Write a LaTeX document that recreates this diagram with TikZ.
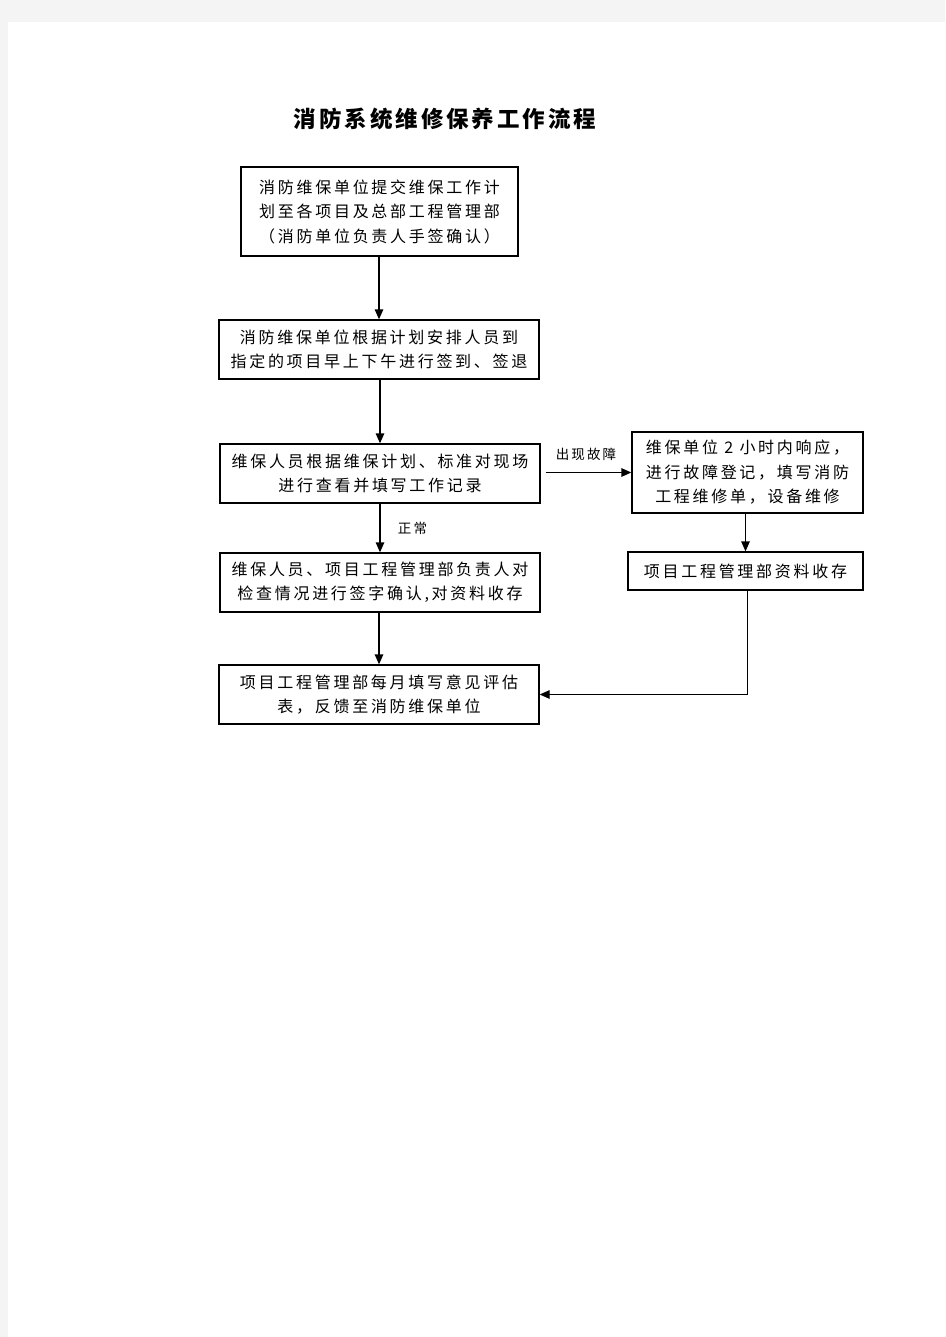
\documentclass[tikz,border=0pt]{standalone}
\usepackage{fontspec}
\usepackage{tikz}
\usetikzlibrary{arrows.meta}
\newfontfamily\cjk{Noto Sans CJK SC}[LetterSpace=17]
\newfontfamily\cjklabel{Noto Sans CJK SC}[LetterSpace=16]
\newfontfamily\cjktitle{Noto Sans CJK SC}[LetterSpace=13]
\definecolor{pagegrey}{HTML}{F4F4F4}

\begin{document}
\begin{tikzpicture}[x=1pt, y=-1pt,
    box/.style={draw, line width=1.3pt, inner sep=0pt, align=center,
        font=\cjk\fontsize{16pt}{24.5pt}\selectfont},
    flow/.style={line width=1.3pt, -{Triangle[length=10pt,width=8.5pt]}},
    lbl/.style={font=\cjklabel\fontsize{13.5pt}{15pt}\selectfont}]
\fill[pagegrey] (0,0) rectangle (945,1337);
\fill[white] (8,22) rectangle (945,1337);
\node[font=\cjktitle\bfseries\fontsize{22.5pt}{26pt}\selectfont] (title) at (445,119) {消防系统维修保养工作流程};
\node[box, minimum width=277pt, minimum height=89pt] (plan) at (379.5,211.5)
    {消防维保单位提交维保工作计\\划至各项目及总部工程管理部\\（消防单位负责人手签确认）};
\node[box, minimum width=320pt, minimum height=59pt] (arrange) at (379,349.5)
    {消防维保单位根据计划安排人员到\\指定的项目早上下午进行签到、签退};
\node[box, minimum width=320pt, minimum height=59pt] (check) at (380,473.5)
    {维保人员根据维保计划、标准对现场\\进行查看并填写工作记录};
\node[box, minimum width=231pt, minimum height=81pt] (repair) at (747.5,472.5)
    {维保单位 2 小时内响应，\\进行故障登记，填写消防\\工程维修单，设备维修};
\node[box, minimum width=235pt, minimum height=38pt] (file) at (745.5,571)
    {项目工程管理部资料收存};
\node[box, minimum width=320pt, minimum height=59pt] (sign) at (380,582.5)
    {维保人员、项目工程管理部负责人对\\检查情况进行签字确认,对资料收存};
\node[box, minimum width=320pt, minimum height=59pt] (feedback) at (379,694.5)
    {项目工程管理部每月填写意见评估\\表，反馈至消防维保单位};
\draw[flow] (plan.south -| arrange.north) -- (arrange.north);
\draw[flow] (arrange.south -| check.north) -- (check.north);
\draw[flow, shorten <=5pt] (check.east |- repair.west) -- (repair.west) node[lbl, midway, above=8pt] {出现故障};
\draw[flow] (check.south) -- (sign.north) node[lbl, midway, right=14pt] {正常};
\draw[flow] (sign.south -| feedback.north) -- (feedback.north);
\draw[flow] (repair.south -| file.north) -- (file.north);
\draw[flow] ([xshift=2pt]file.south) |- (feedback.east);
\end{tikzpicture}
\end{document}
